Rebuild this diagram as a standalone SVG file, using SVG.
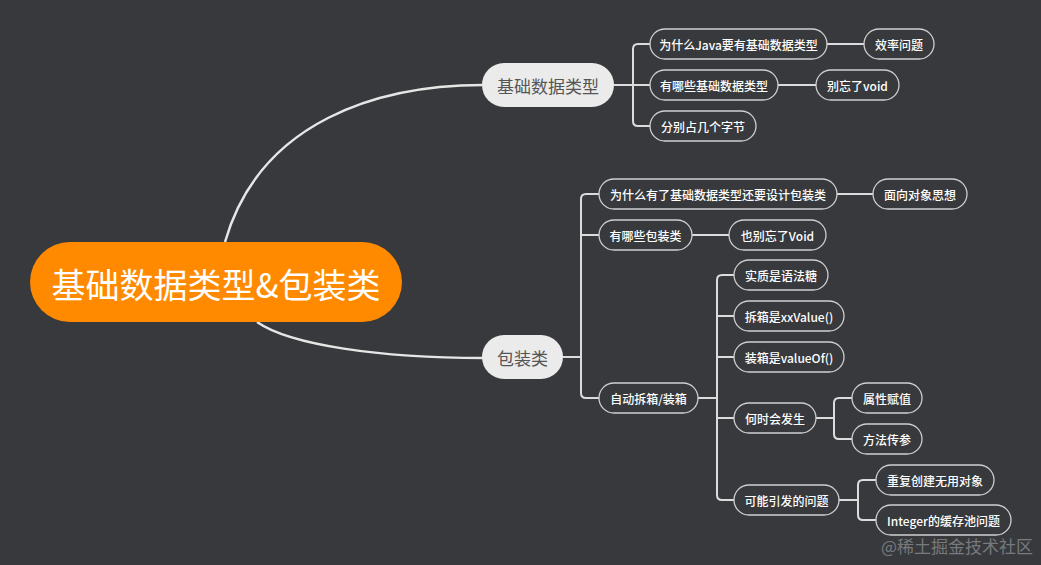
<svg xmlns="http://www.w3.org/2000/svg" width="1041" height="565" viewBox="0 0 1041 565">
<style>
.bg{fill:#37393c}
.conn{fill:none;stroke:#dcdcdc;stroke-width:2;stroke-linecap:round}
.main{fill:none;stroke:#e6e6e6;stroke-width:2.5}
.leaf rect{fill:#37393c;stroke:#cfcfcf;stroke-width:1.3}
.leaf text{fill:#ffffff;font-family:"Noto Sans CJK SC","Microsoft YaHei",sans-serif;font-size:12px;font-weight:500;text-anchor:middle;dominant-baseline:central}
.sub rect{fill:#ebebeb}
.sub text{fill:#555555;font-family:"Noto Sans CJK SC",sans-serif;font-size:17px;text-anchor:middle;dominant-baseline:central}
</style>
<rect class="bg" x="0" y="0" width="1041" height="565"/>
<g id="connectors">
<path class="main" d="M225 242 C260 120 380 85 483 85"/>
<path class="main" d="M257 322 C290 345 380 358 483 358"/>
<path class="conn" d="M614 85 H650 M650 44 H638 Q633 44 633 49 V121 Q633 126 638 126 H650"/>
<path class="conn" d="M827 44 H864 M778 85 H816"/>
<path class="conn" d="M563 357 H581 M599 194 H586 Q581 194 581 199 V393 Q581 398 586 398 H599 M581 235 H599"/>
<path class="conn" d="M837 194 H873 M692 235 H729"/>
<path class="conn" d="M698 398 H717 M734 275 H722 Q717 275 717 280 V495 Q717 500 722 500 H734 M717 316 H734 M717 357 H734 M717 418 H734"/>
<path class="conn" d="M816 418 H834 M852 398 H839 Q834 398 834 403 V434 Q834 439 839 439 H852"/>
<path class="conn" d="M839 500 H858 M876 480 H863 Q858 480 858 485 V515 Q858 520 863 520 H876"/>
</g>
<g id="root">
<rect x="30" y="242" width="372" height="80" rx="40" fill="#ff8a00"/>
<text x="216" y="283" fill="#ffffff" font-family="'Noto Sans CJK SC',sans-serif" font-size="34" text-anchor="middle" dominant-baseline="central">基础数据类型&amp;包装类</text>
</g>
<g id="basic" class="sub"><rect x="482" y="63" width="132" height="44" rx="22"/><text x="548" y="85">基础数据类型</text></g>
<g id="wrapper" class="sub"><rect x="482" y="335" width="81" height="44" rx="22"/><text x="522.5" y="357">包装类</text></g>
<g id="n1" class="leaf"><rect x="650" y="29" width="177" height="30" rx="15"/><text x="738.5" y="44">为什么Java要有基础数据类型</text></g>
<g id="n2" class="leaf"><rect x="864" y="29" width="70" height="30" rx="15"/><text x="899" y="44">效率问题</text></g>
<g id="n3" class="leaf"><rect x="650" y="70" width="128" height="30" rx="15"/><text x="714" y="85">有哪些基础数据类型</text></g>
<g id="n4" class="leaf"><rect x="816" y="70" width="83" height="30" rx="15"/><text x="857.5" y="85">别忘了void</text></g>
<g id="n5" class="leaf"><rect x="650" y="111" width="106" height="30" rx="15"/><text x="703" y="126">分别占几个字节</text></g>
<g id="n6" class="leaf"><rect x="599" y="179" width="238" height="30" rx="15"/><text x="718" y="194">为什么有了基础数据类型还要设计包装类</text></g>
<g id="n7" class="leaf"><rect x="873" y="179" width="94" height="30" rx="15"/><text x="920" y="194">面向对象思想</text></g>
<g id="n8" class="leaf"><rect x="599" y="220" width="93" height="30" rx="15"/><text x="645.5" y="235">有哪些包装类</text></g>
<g id="n9" class="leaf"><rect x="729" y="220" width="97" height="30" rx="15"/><text x="777.5" y="235">也别忘了Void</text></g>
<g id="n10" class="leaf"><rect x="599" y="383" width="99" height="30" rx="15"/><text x="648.5" y="398">自动拆箱/装箱</text></g>
<g id="n11" class="leaf"><rect x="734" y="260" width="94" height="30" rx="15"/><text x="781" y="275">实质是语法糖</text></g>
<g id="n12" class="leaf"><rect x="734" y="301" width="110" height="30" rx="15"/><text x="789" y="316">拆箱是xxValue()</text></g>
<g id="n13" class="leaf"><rect x="734" y="342" width="110" height="30" rx="15"/><text x="789" y="357">装箱是valueOf()</text></g>
<g id="n14" class="leaf"><rect x="734" y="403" width="82" height="30" rx="15"/><text x="775" y="418">何时会发生</text></g>
<g id="n15" class="leaf"><rect x="734" y="485" width="105" height="30" rx="15"/><text x="786.5" y="500">可能引发的问题</text></g>
<g id="n16" class="leaf"><rect x="852" y="383" width="70" height="30" rx="15"/><text x="887" y="398">属性赋值</text></g>
<g id="n17" class="leaf"><rect x="852" y="424" width="70" height="30" rx="15"/><text x="887" y="439">方法传参</text></g>
<g id="n18" class="leaf"><rect x="876" y="465" width="118" height="30" rx="15"/><text x="935" y="480">重复创建无用对象</text></g>
<g id="n19" class="leaf"><rect x="876" y="505" width="135" height="30" rx="15"/><text x="943.5" y="520">Integer的缓存池问题</text></g>
<text x="1033" y="553" fill="#77797c" font-family="'Noto Sans CJK SC',sans-serif" font-size="17" text-anchor="end">@稀土掘金技术社区</text>
</svg>
